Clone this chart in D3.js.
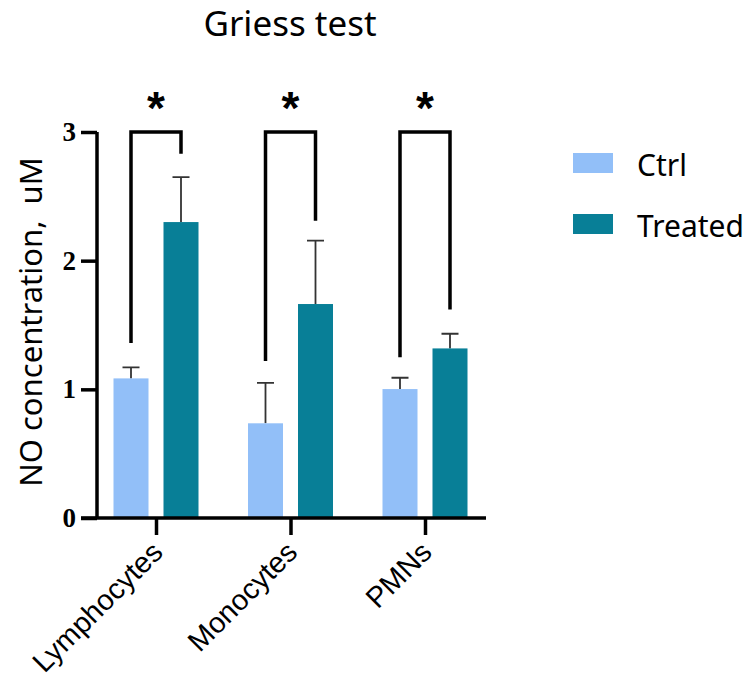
<!DOCTYPE html>
<html>
<head>
<meta charset="utf-8">
<script src="https://cdn.jsdelivr.net/npm/d3@7"></script>
<style>
  body { margin: 0; background: #fff; }
  text { fill: #000; }
</style>
</head>
<body>
<svg id="chart" width="751" height="681"></svg>
<script>
// data
var categories = ["Lymphocytes", "Monocytes", "PMNs"];
var series = ["Ctrl", "Treated"];
var ctrlMean = [1.085, 0.736, 1.002];
var ctrlErr = [1.17, 1.05, 1.09];      // top of error bar
var treatedMean = [2.30, 1.663, 1.318];
var treatedErr = [2.65, 2.155, 1.432];
var yTicks = [0, 1, 2, 3];
// significance brackets: top level, left leg end, right leg end
var bracketTop = [3, 3, 3];
var bracketLeft = [1.36, 1.22, 1.25];
var bracketRight = [2.83, 2.31, 1.62];
var colors = ["#92bff8", "#087f97"];

var svg = d3.select("#chart");
var sans = "'Noto Sans', 'Open Sans', sans-serif";

// category spacing, centres on the x ticks
var step = 134.5;
var x0 = d3.scaleBand().domain(categories).range([156 - step / 2, 156 + step * 2.5]);
var x1 = d3.scaleBand().domain(series).range([-42.5, 42.5]).paddingInner(0.3).paddingOuter(0);
var y = d3.scaleLinear().domain([0, 3]).range([518, 132]);

var groups = categories.map(function (c, i) {
  return [
    { s: "Ctrl", v: ctrlMean[i], e: ctrlErr[i] },
    { s: "Treated", v: treatedMean[i], e: treatedErr[i] }
  ];
});

var g = svg.append("g");

var grp = g.selectAll(".grp")
  .data(groups)
  .enter().append("g")
  .attr("transform", function (d, i) { return "translate(" + (x0(categories[i]) + x0.bandwidth() / 2) + ",0)"; });

// error bars (upper only)
grp.selectAll(".err")
  .data(function (d) { return d; })
  .enter().append("path")
  .attr("d", function (d) {
    var cx = x1(d.s) + x1.bandwidth() / 2;
    return "M" + cx + "," + y(d.v) + "V" + y(d.e) + "M" + (cx - 8.5) + "," + y(d.e) + "H" + (cx + 8.5);
  })
  .attr("stroke", "#333")
  .attr("stroke-width", 1.8)
  .attr("fill", "none");

grp.selectAll("rect")
  .data(function (d) { return d; })
  .enter().append("rect")
  .attr("x", function (d) { return x1(d.s); })
  .attr("width", x1.bandwidth())
  .attr("y", function (d) { return y(d.v); })
  .attr("height", function (d) { return y(0) - y(d.v); })
  .attr("fill", function (d) { return d.s === "Ctrl" ? colors[0] : colors[1]; });

// significance brackets
grp.append("path")
  .attr("d", function (d, i) {
    var lx = x1("Ctrl") + x1.bandwidth() / 2, rx = x1("Treated") + x1.bandwidth() / 2;
    return "M" + lx + "," + y(bracketLeft[i]) + "V" + y(bracketTop[i]) + "H" + rx + "V" + y(bracketRight[i]);
  })
  .attr("stroke", "#000")
  .attr("stroke-width", 3.5)
  .attr("fill", "none");

grp.append("text")
  .attr("x", 0)
  .attr("y", 124)
  .attr("text-anchor", "middle")
  .style("font-family", "'Liberation Sans', Arial, sans-serif")
  .style("font-weight", "bold")
  .style("font-size", "46px")
  .text("*");

// y axis
var yAxis = d3.axisLeft(y).tickValues(yTicks).tickFormat(d3.format("d")).tickSize(16).tickPadding(5);
var ya = svg.append("g").attr("transform", "translate(97,0)").call(yAxis);
ya.select(".domain").attr("d", "M0,132V518").attr("stroke", "#000").attr("stroke-width", 3.5);
ya.selectAll(".tick line").attr("stroke", "#000").attr("stroke-width", 3.5);
ya.selectAll(".tick text")
  .style("font-family", "'Liberation Serif', 'Times New Roman', serif")
  .style("font-weight", "bold")
  .style("font-size", "27px")
  .attr("fill", "#000");

// x axis
var xAxis = d3.axisBottom(d3.scalePoint().domain(categories).range([156, 156 + step * 2])).tickSize(17).tickSizeOuter(0);
var xa = svg.append("g").attr("transform", "translate(0,518)").call(xAxis);
xa.select(".domain").attr("d", "M81,0H486").attr("stroke", "#000").attr("stroke-width", 3.5);
xa.selectAll(".tick line").attr("stroke", "#000").attr("stroke-width", 3.5);
xa.selectAll(".tick text")
  .attr("x", 0)
  .attr("y", 0)
  .attr("dy", 0)
  .attr("text-anchor", "end")
  .attr("transform", "translate(8,36) rotate(-45)")
  .style("font-family", "'Liberation Sans', Arial, sans-serif")
  .style("font-size", "29px")
  .attr("fill", "#000");

// title
svg.append("text")
  .attr("x", 290)
  .attr("y", 36)
  .attr("text-anchor", "middle")
  .style("font-family", sans)
  .style("font-size", "35px")
  .text("Griess test");

// y label
svg.append("text")
  .attr("transform", "translate(42,322) rotate(-90)")
  .attr("text-anchor", "middle")
  .style("font-family", sans)
  .style("font-size", "31px")
  .attr("xml:space", "preserve")
  .text("NO concentration,  uM");

// legend
var leg = svg.append("g").selectAll("g")
  .data(series)
  .enter().append("g")
  .attr("transform", function (d, i) { return "translate(573," + (153 + i * 61) + ")"; });
leg.append("rect").attr("width", 40).attr("height", 20).attr("fill", function (d, i) { return colors[i]; });
leg.append("text")
  .attr("x", 64)
  .attr("y", 23)
  .style("font-family", sans)
  .style("font-size", "30px")
  .text(function (d) { return d; });
</script>
</body>
</html>
